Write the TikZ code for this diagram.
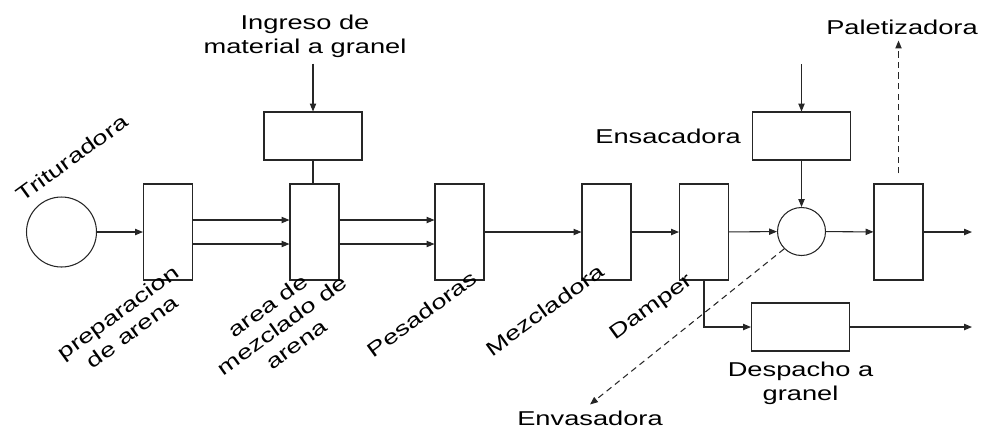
\documentclass[tikz,border=0pt]{standalone}
\usepackage{fontspec}
\setmainfont[FakeStretch=1.36]{Liberation Sans}
\usetikzlibrary{positioning, arrows.meta}

\begin{document}
\begin{tikzpicture}[
    x=0.02cm, y=-0.02cm,
    every node/.style={font=\fontsize{11.4pt}{13.7pt}\selectfont},
    % Styles
    unit/.style={draw=black!85, line width=0.6pt, minimum width=0.98cm, minimum height=1.92cm, inner sep=0pt},
    feeder/.style={draw=black!85, line width=0.6pt, minimum width=1.96cm, minimum height=0.96cm, inner sep=0pt},
    joint/.style={draw=black!85, line width=0.6pt, circle, inner sep=0pt},
    slanted/.style={align=center, rotate=36},
    txt/.style={align=center},
    flow-arrow/.style={-{Triangle[length=4.5pt, width=3.6pt]}, line width=0.6pt, black!85},
    side-arrow/.style={flow-arrow, dash pattern=on 3.5pt off 2.5pt},
]
\useasboundingbox (0, 0) rectangle (982, 427);

% Main line
\node[joint, minimum size=1.4cm] (trit) at (61.5, 232) {};
\node[unit] (prep) at (168, 232) {};
\node[unit] (mezcla-area) at (314.5, 232) {};
\node[unit] (pesa) at (459.5, 232) {};
\node[unit] (mezcla) at (606.5, 232) {};
\node[unit] (damper) at (704, 232) {};
\node[joint, minimum size=0.96cm] (ensac-pt) at (801.5, 231.5) {};
\node[unit] (paleta) at (898.5, 232) {};
\coordinate (fin-linea) at (972, 232);

% Feeders
\node[feeder] (ingreso) at (313, 136) {};
\node[feeder] (ensac) at (801.5, 136) {};
\node[feeder] (despacho) at (800.5, 327) {};
\coordinate (ensac-in) at (801.5, 64);
\coordinate (fin-desp) at (972, 327);

% Labels
\node[slanted] (trit-txt) at (72, 158) {Trituradora};
\node[slanted] (prep-txt) at (125, 322) {preparacion\\de arena};
\node[slanted] (mezcla-area-txt) at (282, 325) {area de\\mezclado de\\arena};
\node[slanted] (pesa-txt) at (422, 314) {Pesadoras};
\node[slanted] (mezcla-txt) at (545, 310) {Mezcladora};
\node[slanted] (damper-txt) at (652, 308) {Damper};
\node[txt] (ingreso-txt) at (305, 36) {Ingreso de\\material a granel};
\node[txt, left=0.1cm of ensac] (ensac-txt) {Ensacadora};
\node[txt, below=0.08cm of despacho] (despacho-txt) {Despacho a\\granel};
\node[txt] (paleta-txt) at (902, 27) {Paletizadora};
\node[txt] (envase-txt) at (590, 418) {Envasadora};

% Flow
\draw[flow-arrow] (trit) -- (prep);
\draw[flow-arrow] ([yshift=0.24cm]prep.east) -- ([yshift=0.24cm]mezcla-area.west);
\draw[flow-arrow] ([yshift=-0.24cm]prep.east) -- ([yshift=-0.24cm]mezcla-area.west);
\draw[flow-arrow] ([yshift=0.24cm]mezcla-area.east) -- ([yshift=0.24cm]pesa.west);
\draw[flow-arrow] ([yshift=-0.24cm]mezcla-area.east) -- ([yshift=-0.24cm]pesa.west);
\draw[flow-arrow] (pesa) -- (mezcla);
\draw[flow-arrow] (mezcla) -- (damper);
\draw[flow-arrow] (damper) -- (ensac-pt);
\draw[flow-arrow] (ensac-pt) -- (paleta);
\draw[flow-arrow] (paleta) -- (fin-linea);

% Feeder connections
\draw[flow-arrow] (ingreso-txt.south -| ingreso.north) -- (ingreso.north);
\draw[line width=0.6pt, black!85] (ingreso.south) -- (ingreso.south |- mezcla-area.north);
\draw[flow-arrow] (ensac-in) -- (ensac.north);
\draw[flow-arrow] (ensac) -- (ensac-pt);
\draw[flow-arrow] (damper.south) |- (despacho.west);
\draw[flow-arrow] (despacho) -- (fin-desp);

% Side outputs
\draw[side-arrow] ([yshift=0.2cm]paleta.north) -- (paleta.north |- paleta-txt.south);
\draw[side-arrow] (ensac-pt.225) -- (envase-txt.north);

\end{tikzpicture}
\end{document}
